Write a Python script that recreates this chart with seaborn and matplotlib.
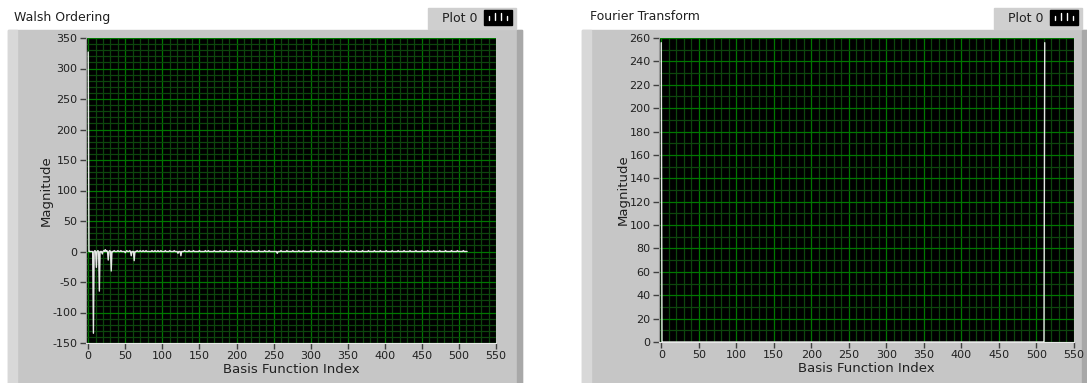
import numpy as np
import pandas as pd
import matplotlib
matplotlib.use("Agg")
import matplotlib.pyplot as plt
import seaborn as sns
from matplotlib.patches import Rectangle
from matplotlib.ticker import MultipleLocator

# data
n_points = 512
walsh_spike_idx = [0, 7, 11, 15, 19, 23, 27, 31, 50, 58, 62, 121, 125, 255]
walsh_spike_val = [327, -134, -26, -65, -4, 3, -14, -32, -2, -7, -15, -3, -7, -3]
walsh_fuzz_idx = [9, 13, 21, 25, 29, 35, 40, 44, 52, 56, 66, 70, 74, 78, 86, 90, 94, 98,
                  104, 110, 116, 130, 136, 142, 150, 158, 162, 170, 178, 186, 194, 198,
                  206, 214, 222, 230, 238, 244, 260, 268, 276, 284, 290, 300, 306, 314,
                  322, 330, 340, 346, 354, 362, 370, 378, 386, 394, 402, 410, 418, 426,
                  434, 442, 450, 458, 466, 474, 482, 490, 498, 506]
walsh_fuzz_val = 1.5
fourier_spike_idx = [0, 511]
fourier_spike_val = [256, 256]

walsh = np.zeros(n_points)
walsh[walsh_fuzz_idx] = walsh_fuzz_val
walsh[walsh_spike_idx] = walsh_spike_val
fourier = np.zeros(n_points)
fourier[fourier_spike_idx] = fourier_spike_val

df = pd.DataFrame({"index": np.arange(n_points), "walsh": walsh, "fourier": fourier})

W, H = 1087, 383
sns.set_style("dark")
plt.rcParams["font.family"] = ["DejaVu Sans"]
plt.rcParams["axes.unicode_minus"] = False
plt.rcParams["path.simplify"] = False
fig = plt.figure(figsize=(W / 100, H / 100), dpi=100)
fig.patch.set_facecolor("white")


def box(x0, y0, x1, y1):
    return [x0 / W, 1 - y1 / H, (x1 - x0) / W, (y1 - y0) / H]


def panel(x0, x1):
    fig.patches.append(Rectangle((x0 / W, 0), (x1 - x0) / W, 1 - 30 / H,
                                 transform=fig.transFigure, color="#c6c6c6", zorder=-3))
    fig.patches.append(Rectangle((x0 / W, 0), 9 / W, 1 - 30 / H,
                                 transform=fig.transFigure, color="#d8d8d8", zorder=-2))
    fig.patches.append(Rectangle(((x1 - 5) / W, 0), 5 / W, 1 - 30 / H,
                                 transform=fig.transFigure, color="#a8a8a8", zorder=-2))


def legend_box(x0, x1):
    fig.patches.append(Rectangle((x0 / W, 1 - 29 / H), (x1 - x0) / W, 21 / H,
                                 transform=fig.transFigure, color="#cfcfcf", zorder=1))
    sx = x1 - 32
    fig.patches.append(Rectangle((sx / W, 1 - 25 / H), 28 / W, 15 / H,
                                 transform=fig.transFigure, color="black", zorder=2))
    fig.text((sx - 6) / W, 1 - 19 / H, "Plot 0", ha="right", va="center",
             fontsize=9, color="#202020")
    for dx, h in [(5, 4), (11, 7), (17, 7), (23, 4)]:
        fig.lines.append(plt.Line2D([(sx + dx) / W] * 2, [1 - 20 / H, 1 - (20 - h) / H],
                                    transform=fig.transFigure, color="white", lw=1, zorder=3))


panel(8, 522)
panel(582, 1087)
legend_box(428, 516)
legend_box(994, 1082)
fig.text(14 / W, 1 - 17 / H, "Walsh Ordering", fontsize=9, color="#202020", va="center")
fig.text(590 / W, 1 - 17 / H, "Fourier Transform", fontsize=9, color="#202020", va="center")


def style(ax, ymin, ymax, ymajor, yminor):
    ax.set_zorder(2)
    ax.set_facecolor("black")
    ax.set_xlim(-3, 550)
    ax.set_ylim(ymin, ymax)
    ax.xaxis.set_major_locator(MultipleLocator(50))
    ax.xaxis.set_minor_locator(MultipleLocator(10))
    ax.yaxis.set_major_locator(MultipleLocator(ymajor))
    ax.yaxis.set_minor_locator(MultipleLocator(yminor))
    ax.grid(which="major", color="#007800", lw=0.9)
    ax.grid(which="minor", color="#0d460d", lw=0.9)
    ax.set_axisbelow(True)
    ax.tick_params(which="major", direction="out", length=4, width=1, color="#404040",
                   labelsize=8, labelcolor="#202020", bottom=True, left=True, pad=2)
    ax.tick_params(which="minor", length=0)
    for s in ax.spines.values():
        s.set_visible(False)
    ax.spines["left"].set_visible(True)
    ax.spines["bottom"].set_visible(True)
    ax.spines["left"].set_color("#9a9a9a")
    ax.spines["bottom"].set_color("#e8e8e8")
    ax.set_xlabel("Basis Function Index", fontsize=9.5, color="#202020", labelpad=1)
    ax.set_ylabel("Magnitude", fontsize=9.5, color="#202020", labelpad=0)
    for ln in ax.lines:
        ln.set_zorder(3)


ax1 = fig.add_axes(box(86, 38, 496, 343))
sns.lineplot(data=df, x="index", y="walsh", ax=ax1, color="#e6e6e6", lw=1)
style(ax1, -150, 350, 50, 10)

ax2 = fig.add_axes(box(659, 38, 1074, 342))
sns.lineplot(data=df, x="index", y="fourier", ax=ax2, color="#e6e6e6", lw=1)
style(ax2, 0, 260, 20, 10)

fig.savefig("out.png", dpi=100)
